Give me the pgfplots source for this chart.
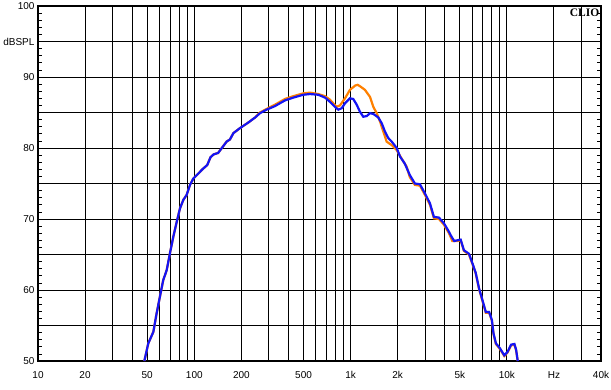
\documentclass[border=0pt]{standalone}
\usepackage{pgfplots}
\pgfplotsset{compat=1.18}
\usepackage{fontspec}
\setmainfont{Liberation Sans}
\newfontfamily\cliofont{Liberation Serif}
\definecolor{cblue}{RGB}{20,20,245}
\definecolor{corange}{RGB}{255,128,0}

\begin{document}
\begin{tikzpicture}
\useasboundingbox (-38pt,-28pt) rectangle (573pt,361pt);
\begin{axis}[
  at={(0,0)}, anchor=south west,
  scale only axis, width=563pt, height=355pt,
  xmode=log, log basis x=10,
  xmin=10, xmax=40000, ymin=50, ymax=100,
  clip=false,
  font=\fontsize{10}{12}\selectfont,
  /pgf/number format/assume math mode=true,
  xtick={10,20,50,100,200,500,1000,2000,5000,10000,20000,40000},
  xticklabels={10,20,50,100,200,500,1k,2k,5k,10k,Hz,40k},
  minor xtick={30,40,60,70,80,90,300,400,600,700,800,900,3000,4000,6000,7000,8000,9000,30000},
  ytick={50,60,70,80,90,100},
  yticklabels={50,60,70,80,90,100},
  minor ytick={55,65,75,85,95},
  grid=both,
  major grid style={black, line width=1pt},
  minor grid style={black, line width=1pt},
  axis line style={line width=2pt},
  major tick length=0pt, minor tick length=0pt,
  tick style={black, line width=0.8pt},
  ytick pos=both, yticklabel pos=left,
  xtick pos=bottom,
  tick align=inside,
  xticklabel style={yshift=-7pt},
  extra y ticks={51,52,53,54,56,57,58,59,61,62,63,64,66,67,68,69,71,72,73,74,76,77,78,79,81,82,83,84,86,87,88,89,91,92,93,94,96,97,98,99},
  extra y tick labels={},
  extra y tick style={grid=none, major tick length=4pt, tick style={black, line width=0.8pt}},
]
\addplot[corange, line width=2.2pt] coordinates {
(47.9,50.0) (50.8,52.5) (54.7,54.1) (57.4,56.7) (60.3,59.1) (63.3,61.4) (66.6,62.8)
(69.9,65.2) (73.4,67.5) (77.2,69.6) (81.0,71.5) (85.1,72.7) (89.4,73.4) (93.9,74.8)
(98.5,75.7) (106,76.4) (114,77.1) (121,77.6) (127,78.7) (133,79.1) (142,79.3)
(150,80.0) (161,80.9) (169,81.2) (178,82.1) (196,82.8) (222,83.6) (245,84.3)
(263,85.0) (290,85.5) (328,86.1) (380,86.9) (430,87.3) (498,87.7) (550,87.8)
(621,87.6) (686,87.3) (738,86.8) (812,85.8) (855,86.0) (921,87.0) (991,88.2)
(1071,88.8) (1110,88.9) (1148,88.7) (1234,88.2) (1331,87.2) (1397,85.8) (1470,84.9)
(1544,83.7) (1620,82.3) (1700,80.9) (1833,80.4) (1973,79.7) (2122,78.5) (2280,77.4)
(2392,75.9) (2578,74.8) (2777,74.7) (2990,73.4) (3220,72.0) (3412,70.1) (3674,70.0)
(3955,69.2) (4260,68.0) (4475,66.9) (4820,66.9) (5060,67.0) (5310,65.5) (5720,65.0)
(6010,63.7) (6320,62.3) (6640,60.1) (6970,58.5) (7330,56.8) (7700,56.8) (8010,55.7)
(8210,53.8) (8500,52.4) (9020,51.7) (9620,50.7) (10110,51.2) (10630,52.2) (11170,52.3)
(11450,51.5) (11730,50.0)
};
\addplot[cblue, line width=2.2pt] coordinates {
(47.9,50.0) (50.8,52.5) (54.7,54.1) (57.4,56.7) (60.3,59.1) (63.3,61.4) (66.6,62.8)
(69.9,65.2) (73.4,67.5) (77.2,69.6) (81.0,71.5) (85.1,72.7) (89.4,73.4) (93.9,74.8)
(98.5,75.7) (106,76.4) (114,77.1) (121,77.6) (127,78.7) (133,79.1) (142,79.3)
(150,80.0) (161,80.9) (169,81.2) (178,82.1) (196,82.8) (222,83.6) (245,84.3)
(263,84.9) (290,85.4) (328,85.9) (380,86.7) (430,87.1) (498,87.5) (550,87.6)
(621,87.5) (686,87.1) (738,86.5) (794,85.8) (834,85.4) (877,85.6) (921,86.3)
(991,87.0) (1040,86.9) (1094,86.1) (1148,85.1) (1206,84.4) (1268,84.5) (1331,84.9)
(1397,84.8) (1504,84.3) (1581,83.5) (1660,82.3) (1742,81.4) (1833,80.9) (1973,80.0)
(2070,78.8) (2222,77.8) (2392,76.2) (2578,75.0) (2777,74.9) (2990,73.6) (3220,72.2)
(3412,70.3) (3674,70.2) (3955,69.4) (4260,68.2) (4400,67.6) (4600,66.9) (4820,67.0)
(5060,67.1) (5310,65.6) (5720,65.1) (6010,63.8) (6320,62.4) (6640,60.2) (6970,58.6)
(7330,56.9) (7700,56.9) (8010,55.8) (8210,53.9) (8500,52.5) (9020,51.8) (9620,50.8)
(10110,51.3) (10630,52.3) (11170,52.4) (11450,51.6) (11730,50.0)
};
\node[anchor=east, inner sep=3.33pt] at (rel axis cs:0,0.9) {dBSPL};
\node[anchor=north east, inner sep=0pt, font=\cliofont\bfseries\fontsize{11.5}{12}\selectfont] at ([xshift=-1.5pt,yshift=-3pt]rel axis cs:1,1) {CLIO};
\end{axis}
\end{tikzpicture}
\end{document}
